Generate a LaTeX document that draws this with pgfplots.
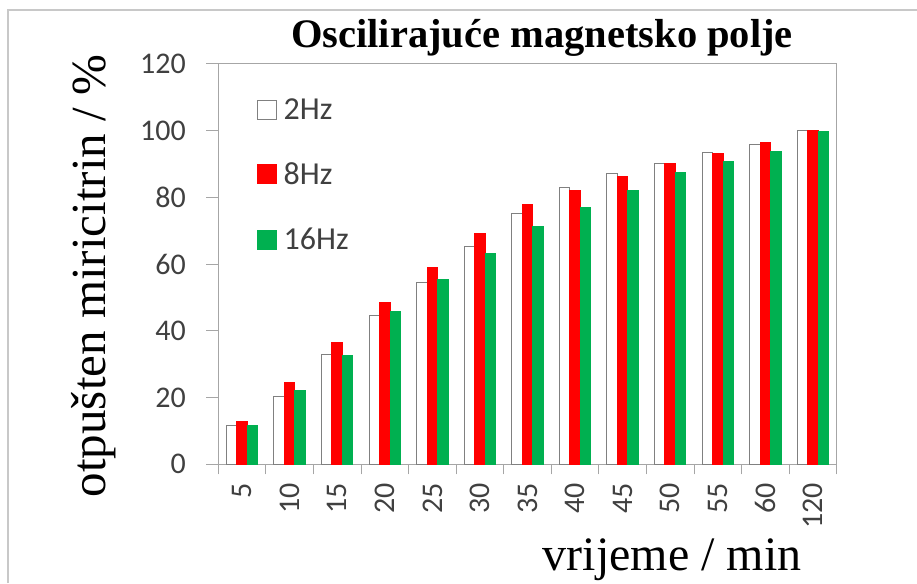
\documentclass[border=0pt]{standalone}
\usepackage{pgfplots}
\pgfplotsset{compat=1.18}
\usepackage{fontspec}
\setmainfont{Liberation Serif}
\newfontfamily\calibri{Carlito}
\definecolor{xred}{RGB}{255,0,0}
\definecolor{xgreen}{RGB}{0,176,80}
\definecolor{axgray}{RGB}{166,166,166}
\definecolor{framegray}{RGB}{200,200,200}
\definecolor{txtgray}{RGB}{64,64,64}

\begin{document}
\begin{tikzpicture}[x=1pt,y=1pt]
\useasboundingbox (0,0) rectangle (917,-583);
\draw[framegray, line width=1.5pt] (8,-583) -- (8,-10) -- (917,-10);
\begin{axis}[
  at={(218.3pt,-464.3pt)}, anchor=south west,
  width=618.4pt, height=400.6pt, scale only axis,
  xmin=-0.5, xmax=12.5, ymin=0, ymax=120,
  ybar=0pt, bar width=0.22,
  axis line style={axgray, line width=1.2pt},
  xtick={0,...,12},
  xticklabels={5,10,15,20,25,30,35,40,45,50,55,60,120},
  minor xtick={-0.5,0.5,...,12.5},
  ytick={0,20,...,120},
  tick pos=left, tick align=outside,
  major x tick style={draw=none},
  minor x tick style={axgray, line width=1pt},
  minor tick length=10pt,
  major tick length=12pt,
  y tick style={axgray, line width=1pt},
  /pgf/number format/assume math mode=true,
  tick label style={font=\calibri\fontsize{30}{32}\selectfont, text=txtgray},
  yticklabel style={xshift=-17pt},
  xticklabel style={rotate=90, anchor=east, xshift=-3pt},
  legend style={at={(0.062,0.918)}, anchor=north west, draw=none, fill=none,
    font=\calibri\fontsize{32}{34}\selectfont, text=txtgray, row sep=38pt,
    inner sep=0pt, outer sep=0pt,
    /tikz/every odd column/.append style={column sep=5pt}},
  legend cell align=left,
  legend image code/.code={\draw[#1] (0pt,-9.5pt) rectangle (19pt,9.5pt);},
]
\addplot[fill=white, draw=gray, line width=1pt] coordinates {
 (0,11.5) (1,20.2) (2,33.0) (3,44.7) (4,54.4) (5,65.3) (6,75.1) (7,82.9) (8,87.0) (9,90.2) (10,93.3) (11,95.7) (12,100)};
\addplot[fill=xred, draw=xred, line width=0pt] coordinates {
 (0,12.8) (1,24.5) (2,36.5) (3,48.5) (4,59.0) (5,69.2) (6,77.8) (7,82.1) (8,86.2) (9,90.0) (10,93.0) (11,96.4) (12,100)};
\addplot[fill=xgreen, draw=xgreen, line width=0pt] coordinates {
 (0,11.5) (1,22.1) (2,32.6) (3,45.7) (4,55.5) (5,63.2) (6,71.1) (7,76.8) (8,82.1) (9,87.5) (10,90.7) (11,93.8) (12,99.7)};
\legend{2Hz,8Hz,16Hz}
\end{axis}
\node[anchor=base, font=\bfseries\fontsize{40.5}{42}\selectfont] at (542,-48) {Oscilirajuće magnetsko polje};
\node[rotate=90, font=\fontsize{49}{51}\selectfont] at (94,-276) {otpušten miricitrin / \%};
\node[anchor=base, font=\fontsize{48}{50}\selectfont] at (672,-570) {vrijeme / min};
\end{tikzpicture}
\end{document}
